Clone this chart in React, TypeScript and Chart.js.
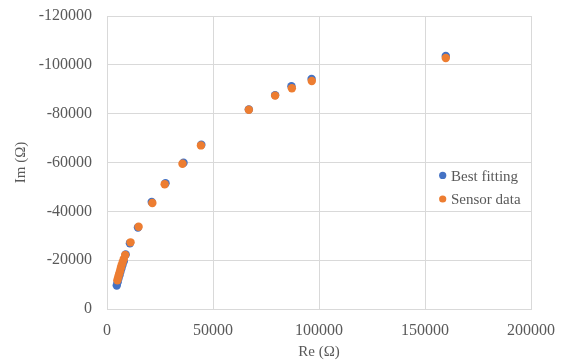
import React, { useEffect, useRef } from "react";
import { Chart, registerables } from "chart.js";

Chart.register(...registerables);

// Nyquist plot: real part vs. imaginary part of impedance (Ω)
const seriesLabels = ["Best fitting", "Sensor data"];
const seriesColors = ["#4472C4", "#ED7D31"];

const fitRe = [4600, 5000, 5400, 5900, 6300, 6800, 7300, 7900, 8800, 10800, 14600, 21100, 27600, 36100, 44500, 66900, 79300, 87000, 96500, 159800];
const fitIm = [-9600, -11000, -12400, -13800, -15200, -16600, -18000, -19500, -22300, -26900, -33400, -43800, -51500, -59900, -67300, -81700, -87600, -91200, -94200, -103600];

const sensorRe = [4900, 5300, 5700, 6100, 6500, 6900, 7400, 7900, 8600, 11100, 14900, 21400, 27200, 35600, 44300, 66900, 79300, 87200, 96600, 159800];
const sensorIm = [-11800, -13000, -14200, -15400, -16700, -17900, -19200, -20500, -22100, -27300, -33700, -43400, -51100, -59500, -67000, -81600, -87400, -90400, -93400, -102800];

const xTickValues = [0, 50000, 100000, 150000, 200000];
const yTickValues = [0, -20000, -40000, -60000, -80000, -100000, -120000];

const FONT = "'Liberation Serif', 'Times New Roman', serif";
const TEXT = "#595959";
const GRID = "#d9d9d9";

const toPoints = (xs: number[], ys: number[]) => xs.map((x, i) => ({ x, y: ys[i] }));

// Legend drawn inside the plot area, to the right
const insideLegend = {
  id: "insideLegend",
  afterDraw(chart: any) {
    const { ctx } = chart;
    const x0 = 442.7;
    const rows = [180.7, 204.3];
    ctx.save();
    ctx.font = `15px ${FONT}`;
    ctx.textBaseline = "alphabetic";
    ctx.textAlign = "left";
    chart.data.datasets.forEach((ds: any, i: number) => {
      const base = rows[i];
      ctx.beginPath();
      ctx.fillStyle = ds.backgroundColor;
      ctx.arc(x0, base - 5.3, 3.6, 0, Math.PI * 2);
      ctx.fill();
      ctx.fillStyle = TEXT;
      ctx.fillText(ds.label, x0 + 8.3, base);
    });
    ctx.restore();
  },
};

export default function App() {
  const canvasRef = useRef<HTMLCanvasElement | null>(null);

  useEffect(() => {
    if (!canvasRef.current) return;
    const chart = new Chart(canvasRef.current, {
      type: "scatter",
      data: {
        datasets: [
          {
            label: seriesLabels[0],
            data: toPoints(fitRe, fitIm),
            backgroundColor: seriesColors[0],
            borderWidth: 0,
            pointRadius: 4.2,
            order: 1,
          },
          {
            label: seriesLabels[1],
            data: toPoints(sensorRe, sensorIm),
            backgroundColor: seriesColors[1],
            borderWidth: 0,
            pointRadius: 4.2,
            order: 0,
          },
        ],
      },
      options: {
        animation: false,
        responsive: true,
        maintainAspectRatio: false,
        layout: { padding: { left: 0, right: 33, top: 16, bottom: 0 } },
        plugins: {
          legend: { display: false },
          tooltip: { enabled: false },
        },
        scales: {
          x: {
            type: "linear",
            min: 0,
            max: 200000,
            afterBuildTicks: (s: any) => {
              s.ticks = xTickValues.map((v) => ({ value: v }));
            },
            afterFit: (s: any) => {
              s.height = 52;
              s.paddingLeft = 0;
              s.paddingRight = 0;
            },
            grid: { color: GRID, lineWidth: 1, drawTicks: false },
            border: { color: GRID },
            ticks: {
              padding: 12,
              color: TEXT,
              font: { family: FONT, size: 16 },
              maxRotation: 0,
              callback: (v: any) => String(v),
            },
            title: {
              display: true,
              text: "Re (Ω)",
              color: TEXT,
              font: { family: FONT, size: 15 },
              padding: { top: 0, bottom: 0 },
            },
          },
          y: {
            type: "linear",
            reverse: true,
            min: -120000,
            max: 0,
            afterBuildTicks: (s: any) => {
              s.ticks = yTickValues.map((v) => ({ value: v }));
            },
            afterFit: (s: any) => {
              s.width = 107;
              s.paddingTop = 0;
              s.paddingBottom = 0;
            },
            grid: { color: GRID, lineWidth: 1, drawTicks: false },
            border: { color: GRID },
            ticks: {
              padding: 15,
              color: TEXT,
              font: { family: FONT, size: 16 },
              callback: (v: any) => String(v),
            },
            title: {
              display: true,
              text: "Im (Ω)",
              color: TEXT,
              font: { family: FONT, size: 15 },
              padding: { top: 12, bottom: 0 },
            },
          },
        },
      },
      plugins: [insideLegend],
    });
    return () => chart.destroy();
  }, []);

  return (
    <div style={{ position: "fixed", left: 0, top: 0, width: 564, height: 361, background: "#ffffff" }}>
      <canvas ref={canvasRef} />
    </div>
  );
}
